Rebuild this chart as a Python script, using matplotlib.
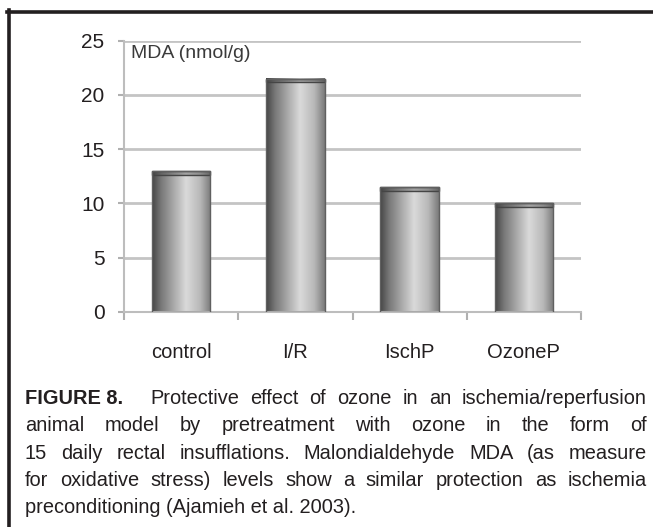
import numpy as np
import matplotlib
matplotlib.use("Agg")
import matplotlib.pyplot as plt
from matplotlib.colors import LinearSegmentedColormap
from matplotlib.lines import Line2D

categories = ["control", "I/R", "IschP", "OzoneP"]
mda_values = [13.0, 21.5, 11.5, 10.0]
y_ticks = [0, 5, 10, 15, 20, 25]
unit_label = "MDA (nmol/g)"
caption_head = "FIGURE 8."
caption_lines = [
    "Protective effect of ozone in an ischemia/reperfusion",
    "animal model by pretreatment with ozone in the form of",
    "15 daily rectal insufflations. Malondialdehyde MDA (as measure",
    "for oxidative stress) levels show a similar protection as ischemia",
    "preconditioning (Ajamieh et al. 2003).",
]

W, H = 653, 527
plt.rcParams['font.family'] = ['Liberation Sans', 'DejaVu Sans']
TXT = "#231f20"

def fx(px):
    return px / W

def fy(py):
    return 1 - py / H

fig = plt.figure(figsize=(W / 100, H / 100), dpi=100)
fig.patch.set_facecolor("white")

# axes box: spine x 124..581, y 0 at 311.7 and 25 at 40.7
ax = fig.add_axes([fx(124), fy(311.7), fx(581) - fx(124), fy(40.7) - fy(311.7)])

bar_w = 0.51
cmap = LinearSegmentedColormap.from_list("cyl", [
    (0.0, "#454545"), (0.15, "#777777"), (0.58, "#dadada"),
    (0.82, "#b8b8b8"), (1.0, "#7a7a7a")])
grad = np.linspace(0, 1, 256).reshape(1, -1)
x = np.arange(len(categories))
for xi, v in zip(x, mda_values):
    ax.imshow(grad, cmap=cmap, aspect="auto", extent=[xi - bar_w / 2, xi + bar_w / 2, 0, v],
              zorder=2, interpolation="bicubic")
    # cylinder cap
    ax.bar(xi, 0.35, bottom=v - 0.35, width=bar_w, color=(0.25, 0.25, 0.25, 0.35),
           edgecolor="#454545", linewidth=1, zorder=3)
ax.bar(x, mda_values, width=bar_w, fill=False, edgecolor="#606060", linewidth=1, zorder=3)

ax.set_xlim(-0.5, len(categories) - 0.5)
ax.set_ylim(0, 25)
ax.set_yticks(y_ticks)
ax.set_yticklabels([str(t) for t in y_ticks], fontsize=15, color=TXT)
ax.tick_params(axis="y", length=4, width=1.5, color="#b0b0b0", pad=10)
ax.set_xticks(np.arange(-0.5, len(categories)), labels=[""] * (len(categories) + 1))
ax.tick_params(axis="x", length=6, width=1.5, color="#b0b0b0", direction="out")
ax.yaxis.grid(True, color="#c4c4c4", linewidth=2)
ax.set_axisbelow(True)
for s in ["top", "right"]:
    ax.spines[s].set_visible(False)
for s in ["left", "bottom"]:
    ax.spines[s].set_color("#bdbdbd")
    ax.spines[s].set_linewidth(1.5)

for xi, name in zip(x, categories):
    ax.text(xi, -(358 - 311.7) / 271, name, transform=ax.get_xaxis_transform(),
            ha="center", va="baseline", fontsize=14.5, color=TXT)

fig.text(fx(131), fy(58), unit_label, fontsize=14, color="#3a3a3a", va="baseline")

# frame lines (top and left)
fig.add_artist(Line2D([fx(7), fx(653)], [fy(11.5), fy(11.5)], color="#231f20", linewidth=2.6))
fig.add_artist(Line2D([fx(9), fx(9)], [fy(10), fy(527)], color="#231f20", linewidth=2.6))

# caption, justified between x=25 and x=647
renderer = fig.canvas.get_renderer()
cap_size = 14.4
baselines = [404, 431.3, 458.6, 485.9, 513.2]

def word_width(word, weight="normal"):
    t = fig.text(0, 0, word, fontsize=cap_size, fontweight=weight)
    w = t.get_window_extent(renderer).width
    t.remove()
    return w

fig.text(fx(25), fy(baselines[0]), caption_head, fontsize=cap_size, fontweight="bold",
         color=TXT, va="baseline")
for i, line in enumerate(caption_lines):
    left = 150 if i == 0 else 25
    right = 647
    words = line.split(" ")
    if i == len(caption_lines) - 1:
        fig.text(fx(left), fy(baselines[i]), line, fontsize=cap_size, color=TXT, va="baseline")
        continue
    widths = [word_width(w) for w in words]
    gap = (right - left - sum(widths)) / (len(words) - 1)
    pos = left
    for w, wd in zip(words, widths):
        fig.text(fx(pos), fy(baselines[i]), w, fontsize=cap_size, color=TXT, va="baseline")
        pos += wd + gap

fig.savefig("out.png", dpi=100)
